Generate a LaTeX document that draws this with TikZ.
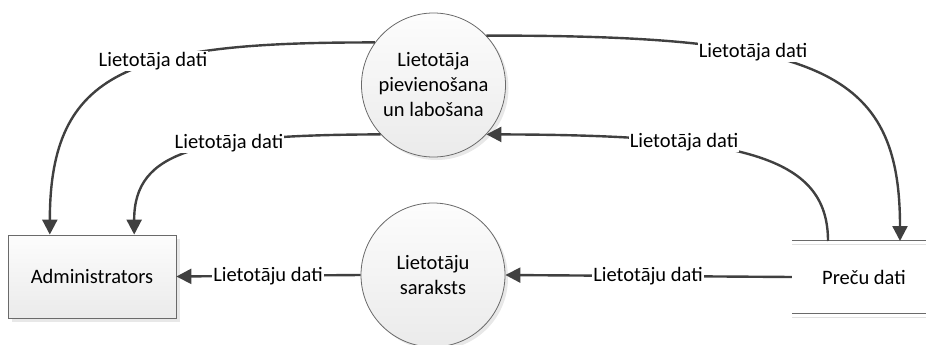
\documentclass[tikz,border=0pt]{standalone}
\usepackage{fontspec}
\setmainfont{Carlito}
\usetikzlibrary{arrows.meta,shadows,calc}
\definecolor{lineclr}{HTML}{404040}
\definecolor{edgeclr}{HTML}{6A6A6A}
\begin{document}
\begin{tikzpicture}[x=1pt,y=-1pt,
  font=\fontsize{20.5}{25}\selectfont,
  proc/.style={circle,draw=edgeclr,line width=0.8pt,minimum size=144pt,inner sep=0pt,align=center,
    top color=black!1,bottom color=black!8,
    drop shadow={shadow xshift=3pt,shadow yshift=-3pt,fill=black!9,opacity=1}},
  ent/.style={rectangle,draw=edgeclr,line width=0.8pt,minimum width=168pt,minimum height=83pt,
    top color=black!1,bottom color=black!8,
    drop shadow={shadow xshift=4pt,shadow yshift=-4pt,fill=black!9,opacity=1}},
  store/.style={rectangle,minimum width=144pt,minimum height=72pt,inner sep=0pt},
  flow/.style={draw=lineclr,line width=2.4pt,-{Triangle[width=15pt,length=15pt]}},
  lbl/.style={fill=white,inner sep=1pt,text=black}
]
\useasboundingbox (0,0) rectangle (926,345);

\node[ent] (admin) at (92,276.5) {Administrators};
\node[proc] (p1) at (433.5,85) {Lietotāja\\pievienošana\\un labošana};
\node[proc] (p2) at (433,275) {Lietotāju\\saraksts};
\node[store] (st) at (864,277) {Preču dati};

% data store lines
\draw[black!12,line width=1.2pt] ($(st.north west)+(0,4)$) -- ($(st.north east)+(0,4)$);
\draw[black!12,line width=1.2pt] ($(st.south west)+(0,4)$) -- ($(st.south east)+(0,4)$);
\draw[edgeclr,line width=1pt] (st.north west) -- (st.north east);
\draw[edgeclr,line width=1pt] (st.south west) -- (st.south east);

\coordinate (a1) at ($(admin.north west)!0.25!(admin.north east)$);
\coordinate (a2) at ($(admin.north west)!0.75!(admin.north east)$);
\coordinate (s1) at (900,241);
\coordinate (s2) at (828,241);

% connectors
\draw[flow] (p1.144) .. controls (130,42) and (50,70) .. (a1);
\draw[flow] (p1.223) .. controls (200,135) and (134,150) .. (a2);
\draw[flow] (p1.43) .. controls (820,35) and (900,70) .. (s1);
\draw[flow] (s2) .. controls (828,155) and (740,135) .. (p1.-43);
\draw[flow] (st.west) -- (p2.east);
\draw[flow] (p2.west) -- (admin.east);

% labels
\node[lbl] (l1) at (153,61) {Lietotāja dati};
\node[lbl] (l2) at (229,143) {Lietotāja dati};
\node[lbl] (l3) at (753,52) {Lietotāja dati};
\node[lbl] (l4) at (684,142) {Lietotāja dati};
\node[lbl] (l5) at (648,276) {Lietotāju dati};
\node[lbl] (l6) at (268,276) {Lietotāju dati};
\end{tikzpicture}
\end{document}
